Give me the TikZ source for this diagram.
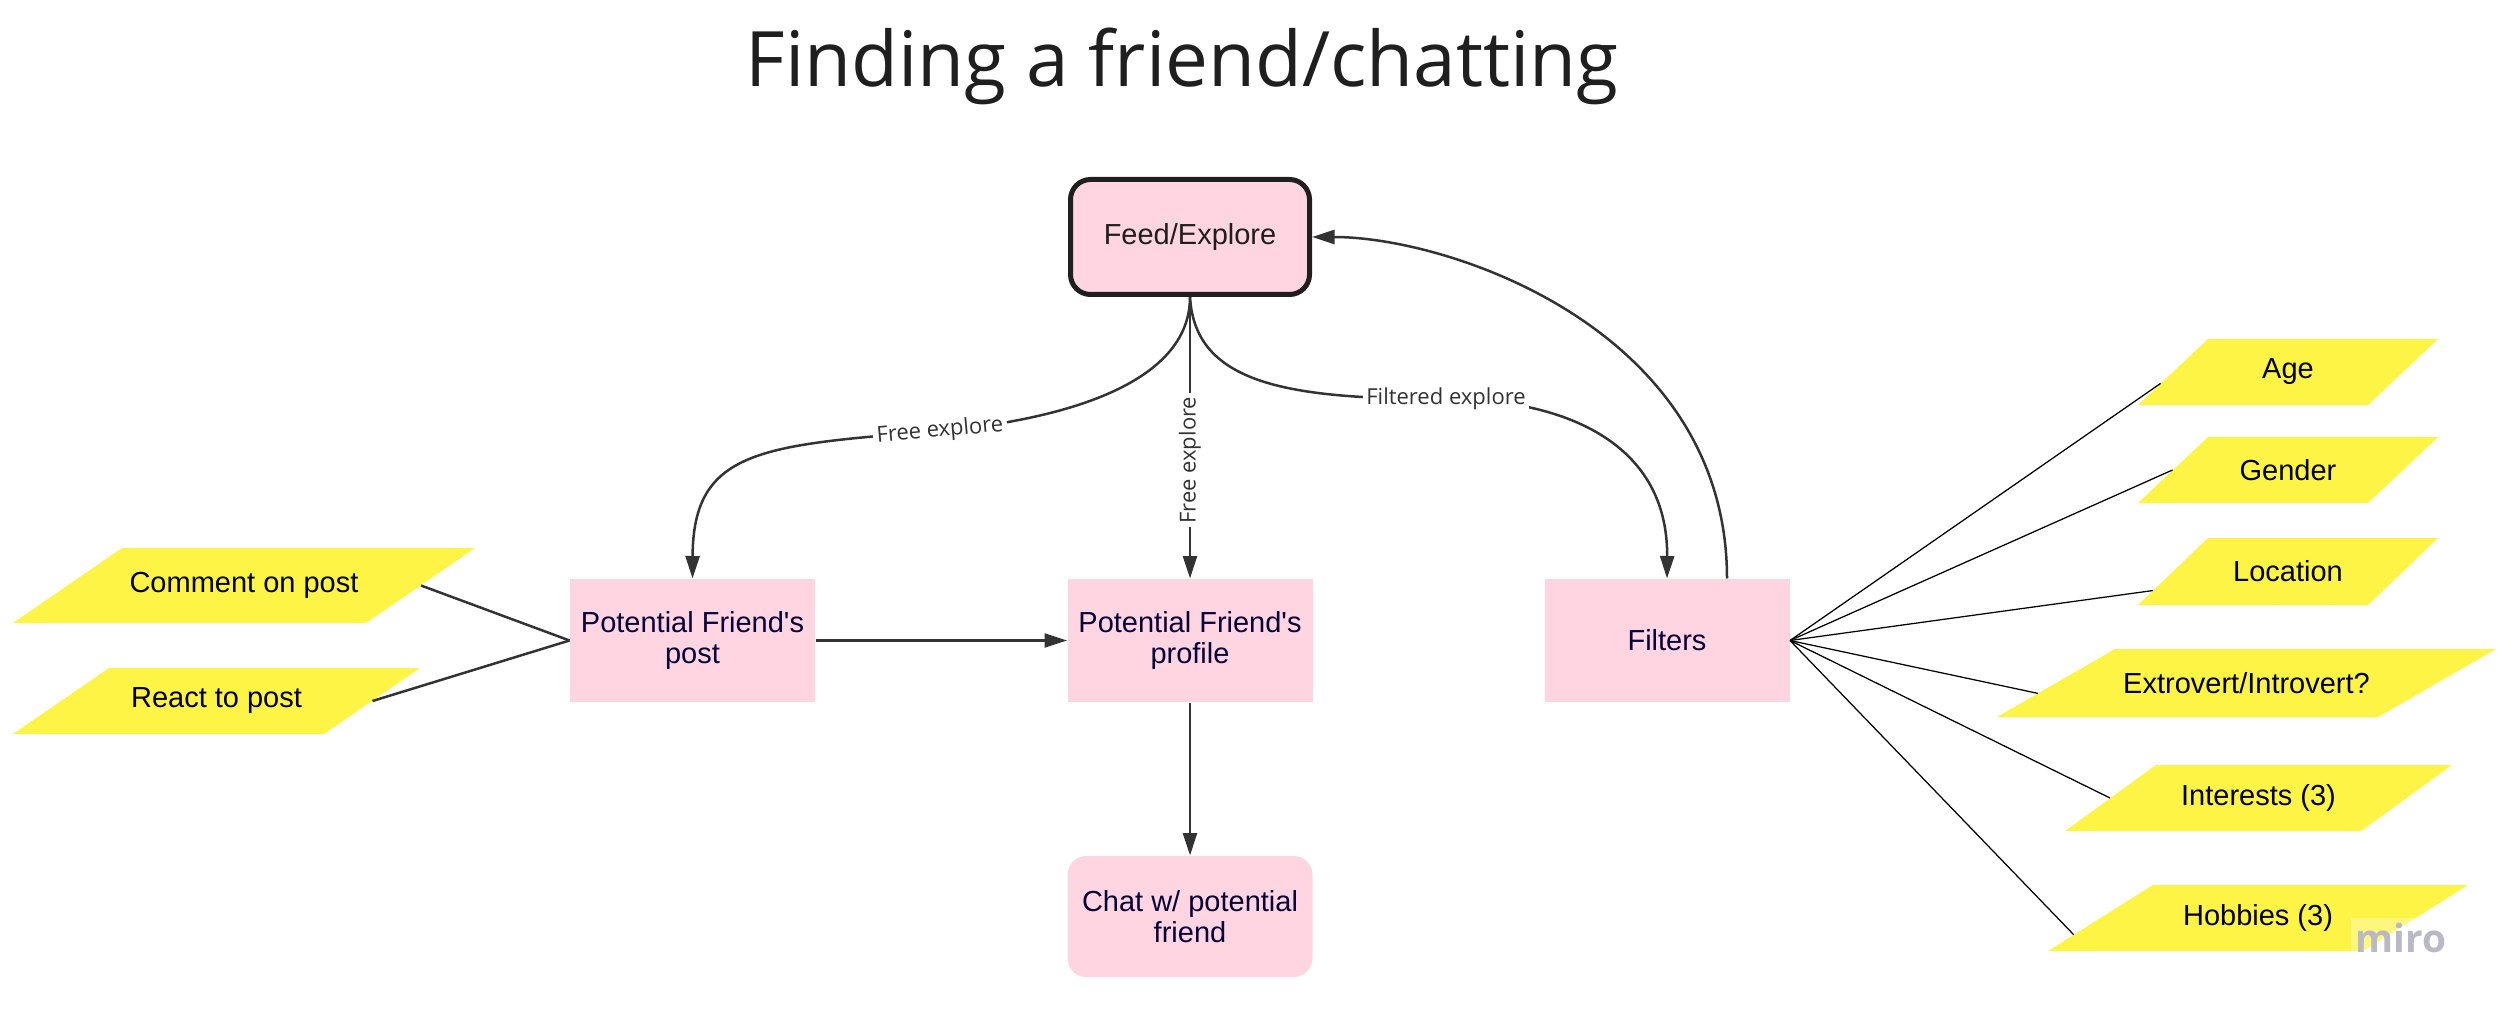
\documentclass[tikz,border=0pt]{standalone}
\usepackage{fontspec}
\setmainfont{Liberation Sans}
\newfontfamily\opensans{Open Sans}
\usetikzlibrary{arrows.meta,calc}
\definecolor{pinkbox}{HTML}{FFD5E1}
\definecolor{yel}{HTML}{FEF445}
\definecolor{navy}{HTML}{050038}
\definecolor{linec}{HTML}{333333}
\definecolor{mirogray}{HTML}{B9B9C6}
\newcommand\mynodefont{\fontsize{11.6pt}{12.6pt}\selectfont}
\newcommand\mylabelfont{\opensans\fontsize{8.8pt}{10pt}\selectfont}
\begin{document}
\begin{tikzpicture}[x=0.4pt, y=-0.4pt,
  conn/.style={draw=linec, line width=1pt},
  arr/.style={conn, -{Triangle[length=9pt,width=5.6pt]}},
  fan/.style={draw=black, line width=0.5pt},
  box/.style={rectangle, fill=pinkbox, minimum width=98pt, minimum height=49.2pt,
    inner sep=2pt, align=center, text=navy, font=\mynodefont},
  para/.style={rectangle, inner sep=0pt, text=black, font=\mynodefont,
    path picture={\fill[yel] (path picture bounding box.south west)
      -- ([xshift=-#1]path picture bounding box.south east)
      -- (path picture bounding box.north east)
      -- ([xshift=#1]path picture bounding box.north west) -- cycle;}},
  lbl/.style={fill=white, inner sep=1.5pt, text=linec, font=\mylabelfont}
]
\path[use as bounding box] (0,0) rectangle (2500,1012);

% title
\node[font={\opensans\fontsize{30.6pt}{36pt}\selectfont}, text=black!88, anchor=base]
  (title) at (1182,87) {Finding a friend/chatting};

% main boxes
\node[box, rounded corners=8pt, draw=black!88, line width=2pt, minimum width=95.6pt,
  minimum height=46pt, text=black!88] (feed) at (1190,237) {Feed/Explore};
\node[box] (post) at (692.5,640.5) {Potential Friend\textquotesingle s\\post};
\node[box] (profile) at (1190,640.5) {Potential Friend\textquotesingle s\\profile};
\node[box] (filters) at (1667,640.5) {Filters};
\node[box, rounded corners=7.5pt, minimum height=48.4pt] (chat) at (1190,916.5) {Chat w/ potential\\friend};

% parallelograms
\node[para=43.6pt, minimum width=184.8pt, minimum height=30pt] (comment) at (244,585.5) {Comment on post};
\node[para=38.4pt, minimum width=162.8pt, minimum height=26.4pt] (react) at (216.5,701) {React to post};
\node[para=28pt, minimum width=120pt, minimum height=26.4pt] (age) at (2288,372) {Age};
\node[para=28pt, minimum width=120pt, minimum height=26.4pt] (gender) at (2288,470) {Gender};
\node[para=28pt, minimum width=120pt, minimum height=26.8pt] (location) at (2288,571.5) {Location};
\node[para=47.2pt, minimum width=199.6pt, minimum height=27.2pt] (extro) at (2246.5,683) {Extrovert/Introvert?};
\node[para=36.4pt, minimum width=154.8pt, minimum height=26.4pt] (interests) at (2258.5,798) {Interests (3)};
\node[para=42pt, minimum width=168pt, minimum height=26.4pt] (hobbies) at (2258,918) {Hobbies (3)};

% watermark
\node[fill=white, fill opacity=0.3, text opacity=1, text=mirogray, inner sep=2pt,
  font={\opensans\bfseries\fontsize{15.5pt}{16pt}\selectfont}] (miro) at (2401,938) {miro};

% connectors from feed
\draw[arr] (feed.south) .. controls (1190,385) and (1060,420) .. (940,431)
  node[lbl, rotate=5] {Free explore}
  .. controls (760,445) and (693,450) .. (post.north);
\draw[arr] (feed.south) -- node[lbl, rotate=90, pos=0.58] {Free explore} (profile.north);
\draw[arr] (feed.south) .. controls (1195,385) and (1290,399) .. (1446,399)
  node[lbl] {Filtered explore}
  .. controls (1560,399) and (1668,440) .. (filters.north);
\draw[arr] ([xshift=24pt]filters.north) .. controls (1727,330) and (1450,237) .. (feed.east);

\draw[arr] (post.east) -- (profile.west);
\draw[arr] (profile.south) -- (chat.north);

\draw[conn] ([xshift=-21.8pt]comment.east) -- (post.west);
\draw[conn] ([xshift=-19.2pt]react.east) -- (post.west);

% filter fan
\draw[fan] (filters.east) -- ($(age.south west)!0.33!([xshift=28pt]age.north west)$);
\draw[fan] (filters.east) -- ($(gender.south west)!0.5!([xshift=28pt]gender.north west)$);
\draw[fan] (filters.east) -- ($(location.south west)!0.22!([xshift=28pt]location.north west)$);
\draw[fan] (filters.east) -- ($(extro.south west)!0.35!([xshift=47.2pt]extro.north west)$);
\draw[fan] (filters.east) -- ($(interests.south west)!0.5!([xshift=36.4pt]interests.north west)$);
\draw[fan] (filters.east) -- ($(hobbies.south west)!0.25!([xshift=42pt]hobbies.north west)$);
\end{tikzpicture}
\end{document}
